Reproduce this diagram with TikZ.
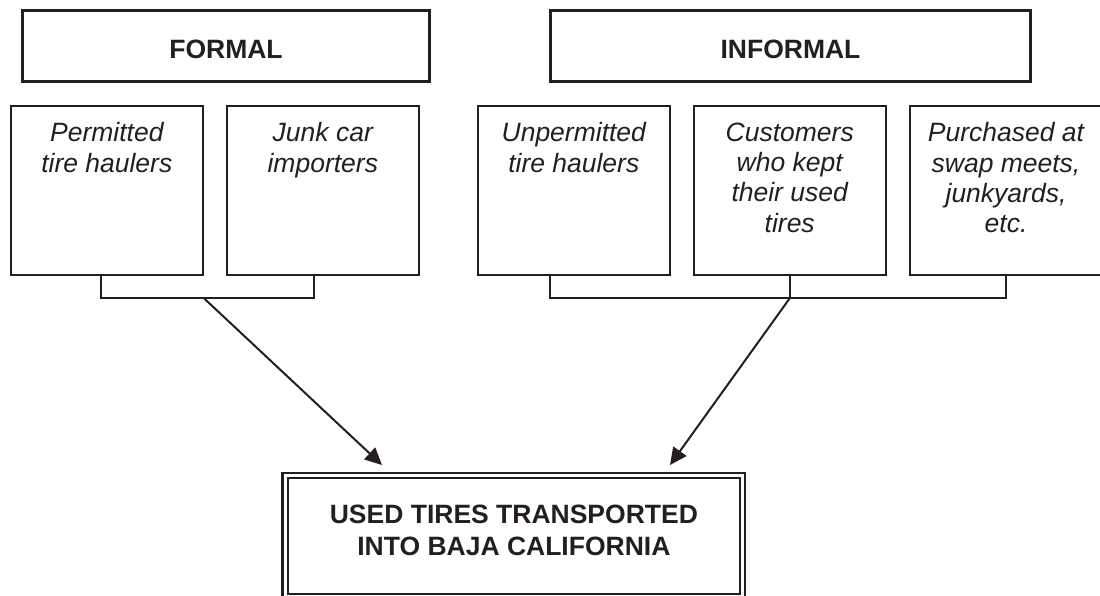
\documentclass[tikz,border=0pt]{standalone}
\usepackage{fontspec}
\setmainfont{Liberation Sans}
\usetikzlibrary{positioning,arrows.meta}
\definecolor{ink}{RGB}{35,31,32}

\tikzset{
  headbox/.style={draw=ink, line width=3.3pt, minimum width=#1, minimum height=71pt,
    inner sep=0pt, outer sep=0pt, text height=24pt, text depth=0pt, text=ink,
    font=\bfseries\fontsize{26.5}{32}\selectfont},
  srcbox/.style={draw=ink, line width=2pt, minimum width=192pt, minimum height=169pt,
    inner sep=0pt, outer sep=0pt},
  srctext/.style={align=center, inner sep=0pt, text=ink,
    font=\itshape\fontsize{26.5}{30.3}\selectfont},
  destbox/.style={draw=ink, double=white, double distance=2.8pt, line width=2.4pt,
    minimum width=457.3pt, minimum height=121pt, inner sep=0pt, outer sep=0pt},
  desttext/.style={align=center, inner sep=0pt, text=ink,
    font=\bfseries\fontsize{26.5}{31.7}\selectfont},
  link/.style={draw=ink, line width=2pt},
  arr/.style={draw=ink, line width=2pt, -{Triangle[length=17pt,width=16pt]}},
}

\begin{document}
\begin{tikzpicture}[x=1pt, y=-1pt]
    \useasboundingbox (0,0) rectangle (1100,596);

    % headers
    \node[headbox=407.4pt] (formal) at (226,46.2) {FORMAL};
    \node[headbox=480.4pt] (informal) at (790.5,46.2) {INFORMAL};

    % sources
    \foreach \name/\x/\txt in {permitted/106.8/{Permitted\\tire haulers},
                               junk/322.8/{Junk car\\importers},
                               unperm/573.8/{Unpermitted\\tire haulers},
                               customers/789.7/{Customers\\who kept\\their used\\tires},
                               purchased/1006/{Purchased at\\swap meets,\\junkyards,\\etc.}}
    {
        \node[srcbox] (\name) at (\x,190.5) {};
        \node[srctext, below=16.5pt of \name.north] (\name txt) {\txt};
    }

    % destination
    \node[destbox] (dest) at (513.9,536) {};
    \node[desttext] (desttxt) at ([yshift=5.5pt]dest.center) {USED TIRES TRANSPORTED\\INTO BAJA CALIFORNIA};

    % brackets
    \coordinate (fjoin) at (204,298.3);
    \coordinate (ijoin) at (customers.south |- 0,298.3);
    \draw[link] ([xshift=-6.1pt]permitted.south) |- (fjoin) -| ([xshift=-8.5pt]junk.south);
    \draw[link] ([xshift=-23.8pt]unperm.south) |- (ijoin) -| (purchased.south);
    \draw[link] (customers.south) -- (ijoin);

    % arrows
    \draw[arr] (fjoin) -- ([xshift=-131.9pt,yshift=10.5pt]dest.north);
    \draw[arr] (ijoin) -- ([xshift=156.1pt,yshift=10.5pt]dest.north);
\end{tikzpicture}
\end{document}
